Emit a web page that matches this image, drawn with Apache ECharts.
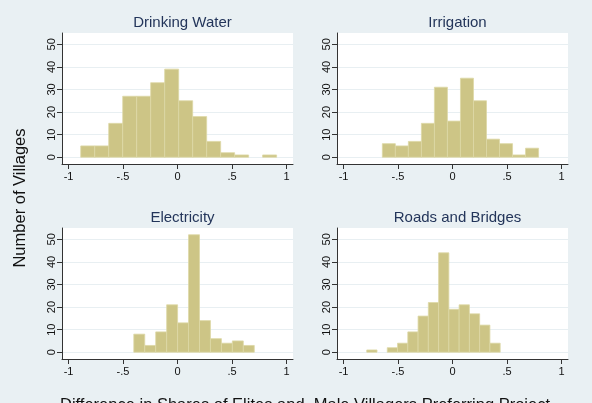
<!DOCTYPE html>
<html>
<head>
<meta charset="utf-8">
<script src="https://cdn.jsdelivr.net/npm/echarts@6/dist/echarts.min.js"></script>
<style>
  html,body{margin:0;padding:0;background:#e9f0f3;}
  #chart{width:592px;height:403px;}
</style>
</head>
<body>
<div id="chart"></div>
<script>
// 直方图数据
var panelTitles=['Drinking Water','Irrigation','Electricity','Roads and Bridges'];
var binStarts=[-0.888,-0.644,-0.401,-0.787];
var binWidths=[0.1284,0.1195,0.1005,0.0942];
var drinkingCounts=[5,5,15,27,27,33,39,25,18,7,2,1,0,1];
var irrigationCounts=[6,5,7,15,31,16,35,25,8,6,1,4];
var electricityCounts=[8,3,9,21,13,52,14,6,4,5,3];
var roadsCounts=[1,0,2,4,9,16,22,44,19,21,17,12,4];
var xTicks=[-1,-0.5,0,0.5,1];
var xTickLabels=['-1','-.5','0','.5','1'];
var yTicks=[0,10,20,30,40,50];

var counts=[drinkingCounts,irrigationCounts,electricityCounts,roadsCounts];
var lefts=[62,337,62,337];
var tops=[33,33,228,228];
var barColor='#cdc586';
var titleColor='#23355a';

/*
 * 把计数转成 [左边界, 右边界, 数量]
 */
function getBins(i){
    var list=[];
    counts[i].forEach(function(c,k){
        var x0=binStarts[i]+k*binWidths[i];
        list.push([x0,x0+binWidths[i],c]);
    });
    return list;
}

function renderBar(params,api){
    var h=api.value(2);
    if(!h){
        return;
    };
    var p0=api.coord([api.value(0),0]);
    var p1=api.coord([api.value(1),h]);
    return {
        type:'rect',
        shape:{x:p0[0],y:p1[1],width:p1[0]-p0[0],height:p0[1]-p1[1]},
        style:{fill:barColor,stroke:'#ddd8a6',lineWidth:0.8}
    };
}

var grid=[],xAxis=[],yAxis=[],series=[],title=[];
for(var i=0;i<4;i++){
    grid.push({left:lefts[i],top:tops[i],width:231,height:131,backgroundColor:'#fff',show:true,borderWidth:0});
    title.push({
        text:panelTitles[i],left:lefts[i]+115.5,top:tops[i]-23,textAlign:'center',
        textStyle:{fontFamily:'Liberation Sans',fontSize:15,fontWeight:'normal',color:titleColor}
    });
    xAxis.push({
        type:'value',gridIndex:i,min:-1.06,max:1.06,
        axisLine:{onZero:false,lineStyle:{color:'#333',width:1}},
        axisTick:{customValues:xTicks,length:5,lineStyle:{color:'#333'}},
        axisLabel:{
            customValues:xTicks,margin:7,fontFamily:'Liberation Sans',fontSize:11,color:'#111',
            formatter:function(v){
                return xTickLabels[xTicks.indexOf(v)];
            }
        },
        splitLine:{show:false}
    });
    yAxis.push({
        type:'value',gridIndex:i,min:-3,max:55,
        axisLine:{show:true,onZero:false,lineStyle:{color:'#333',width:1}},
        axisTick:{show:true,customValues:yTicks,length:5,lineStyle:{color:'#333'}},
        axisLabel:{customValues:yTicks,rotate:90,margin:5,fontFamily:'Liberation Sans',fontSize:11,color:'#111'},
        splitLine:{show:true,lineStyle:{color:'#e8eff2',width:1}}
    });
    series.push({
        type:'custom',xAxisIndex:i,yAxisIndex:i,renderItem:renderBar,
        encode:{x:[0,1],y:2},data:getBins(i),silent:true
    });
};

var myChart=echarts.init(document.getElementById('chart'));
myChart.setOption({
    backgroundColor:'#e9f0f3',
    animation:false,
    title:title,
    grid:grid,
    xAxis:xAxis,
    yAxis:yAxis,
    series:series,
    graphic:[
        {
            type:'text',x:20,y:198,rotation:Math.PI/2,
            style:{text:'Number of Villages',fontFamily:'Liberation Sans',fontSize:16.5,fill:'#111',align:'center',verticalAlign:'middle'}
        },
        {
            type:'text',x:305,y:405,
            style:{text:'Difference in Shares of Elites and  Male Villagers Preferring Project',fontFamily:'Liberation Sans',fontSize:16.5,fill:'#111',align:'center',verticalAlign:'middle'}
        }
    ]
});
</script>
</body>
</html>
